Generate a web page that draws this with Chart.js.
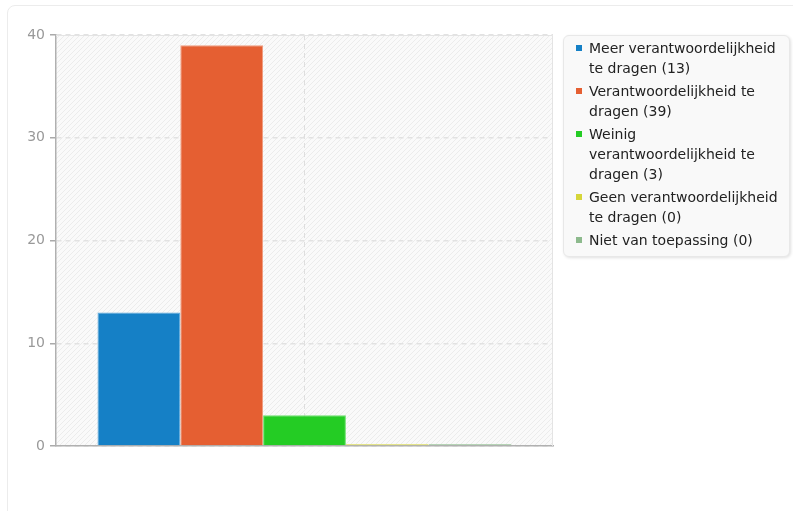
<!DOCTYPE html>
<html>
<head>
<meta charset="utf-8">
<script src="https://cdn.jsdelivr.net/npm/chart.js@4"></script>
<style>
  html, body { margin: 0; padding: 0; background: #fff; overflow: hidden; }
  body { width: 793px; height: 511px; position: relative; font-family: "DejaVu Sans", sans-serif; }
  #card {
    position: absolute; left: 7px; top: 5px; width: 900px; height: 600px;
    border: 1px solid #ececec; border-radius: 8px; box-sizing: border-box;
  }
  #wrap { position: absolute; left: 0; top: 0; width: 560px; height: 511px; }
  #legend {
    position: absolute; left: 563px; top: 35px; width: 227px; height: 222px;
    box-sizing: border-box; background: #f9f9f9; border: 1px solid #e8e8e8;
    border-radius: 6px; box-shadow: 1px 1px 3px rgba(0,0,0,0.12);
    padding: 2px 0 0 25px; font-size: 14px; line-height: 20px; color: #222;
  }
  #legend .item { position: relative; width: 194px; margin-bottom: 3px; }
  #legend .swatch { position: absolute; left: -13px; top: 7px; width: 6px; height: 6px; }
</style>
</head>
<body>
<div id="card"></div>
<div id="wrap"><canvas id="chart"></canvas></div>
<div id="legend"></div>
<script>
const labels = ["Meer verantwoordelijkheid te dragen", "Verantwoordelijkheid te dragen",
  "Weinig verantwoordelijkheid te dragen", "Geen verantwoordelijkheid te dragen", "Niet van toepassing"];
const counts = [13, 39, 3, 0, 0];
const colors = ["#1580c6", "#e55f32", "#24cc24", "#d6d63a", "#8dba8d"];
const edgeColors = ["#5aa8dc", "#f09a7c", "#6be06b", "#e4e48a", "#b4d4b4"];
const yTicks = [0, 10, 20, 30, 40];

// striped background tile for the plot area
function stripes() {
  const c = document.createElement("canvas");
  c.width = 5; c.height = 5;
  const g = c.getContext("2d");
  g.fillStyle = "#fafafa";
  g.fillRect(0, 0, 5, 5);
  g.strokeStyle = "#ececec";
  g.lineWidth = 1;
  g.beginPath();
  g.moveTo(-1, 6); g.lineTo(6, -1);
  g.moveTo(-1, 1); g.lineTo(1, -1);
  g.moveTo(4, 6); g.lineTo(6, 4);
  g.stroke();
  return c;
}

const areaPlugin = {
  id: "area",
  beforeDraw(chart) {
    const { ctx, chartArea: a } = chart;
    ctx.save();
    ctx.fillStyle = ctx.createPattern(stripes(), "repeat");
    ctx.fillRect(a.left, a.top, a.right - a.left, a.bottom - a.top);
    ctx.restore();
  },
  afterDatasetsDraw(chart) {
    // light frame on top and right of the plot
    const { ctx, chartArea: a } = chart;
    ctx.save();
    ctx.strokeStyle = "#e4e4e4";
    ctx.lineWidth = 1;
    ctx.beginPath();
    ctx.moveTo(a.left, a.top + 0.5);
    ctx.lineTo(a.right - 0.5, a.top + 0.5);
    ctx.lineTo(a.right - 0.5, a.bottom);
    ctx.stroke();
    ctx.restore();
  }
};

const datasets = labels.map((name, i) => ({
  label: name,
  data: [counts[i]],
  backgroundColor: colors[i],
  borderColor: edgeColors[i],
  borderWidth: 1,
  minBarLength: 2
}));

new Chart(document.getElementById("chart"), {
  type: "bar",
  data: { labels: [""], datasets },
  options: {
    responsive: true,
    maintainAspectRatio: false,
    animation: false,
    categoryPercentage: 0.833,
    barPercentage: 1,
    layout: { padding: { left: 0, top: 35, right: 7, bottom: 65 } },
    plugins: { legend: { display: false }, tooltip: { enabled: false } },
    scales: {
      x: {
        ticks: { display: false },
        grid: { offset: false, color: "#dedede", lineWidth: 1, drawTicks: false },
        border: { display: true, color: "#b0b0b0", width: 1.5, dash: [5, 4] },
        afterFit(s) { s.height = 0; }
      },
      y: {
        min: 0, max: 40,
        afterBuildTicks(s) { s.ticks = yTicks.map(v => ({ value: v })); },
        ticks: { color: "#999", font: { family: "DejaVu Sans", size: 14 }, padding: 5 },
        grid: { color: "#e2e2e2", lineWidth: 1.5, tickLength: 6, tickColor: "#aaa", tickBorderDash: [1, 0] },
        border: { display: true, color: "#b0b0b0", width: 1.5, dash: [5, 4] },
        afterFit(s) { s.width = 56; }
      }
    }
  },
  plugins: [areaPlugin]
});

// legend box on the right
const legendEl = document.getElementById("legend");
labels.forEach((name, i) => {
  const item = document.createElement("div");
  item.className = "item";
  const sw = document.createElement("span");
  sw.className = "swatch";
  sw.style.background = colors[i];
  item.appendChild(sw);
  item.appendChild(document.createTextNode(`${name} (${counts[i]})`));
  legendEl.appendChild(item);
});
</script>
</body>
</html>
